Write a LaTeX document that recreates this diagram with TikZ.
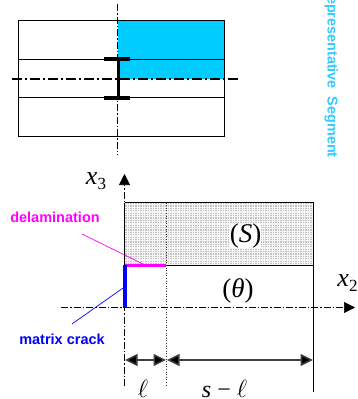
\documentclass[tikz,border=0pt]{standalone}
\usepackage{fontspec}
\setmainfont{Liberation Serif}
\newfontfamily\arialf{Liberation Sans}
\usetikzlibrary{arrows.meta}
\definecolor{segblue}{RGB}{0,204,255}
\definecolor{seglabel}{RGB}{51,204,255}
\definecolor{delam}{RGB}{255,0,255}
\definecolor{crack}{RGB}{0,0,255}
\tikzset{
  box/.style={draw=black,line width=.8pt},
  axisline/.style={draw=black,line width=.6pt,dash pattern=on 7pt off 2pt on 1.5pt off 2pt},
  symm/.style={draw=black,line width=1.1pt,dash pattern=on 10pt off 3pt on 2pt off 3pt},
  flange/.style={draw=black,line width=4pt},
  dimline/.style={draw=black!75,line width=1.5pt,{Triangle[length=12.5pt,width=12pt,fill=black]}-{Triangle[length=12.5pt,width=12pt,fill=black]}},
  tiplabel/.style={font=\arialf\bfseries\fontsize{14.5}{16}\selectfont,inner sep=0pt},
  mathlabel/.style={font=\fontsize{26}{28}\selectfont,inner sep=0pt},
  sublabel/.style={font=\fontsize{27}{29}\selectfont,inner sep=0pt},
  seglab/.style={rotate=-90,anchor=base east,font=\arialf\bfseries\fontsize{14.4}{16}\selectfont,text=seglabel,inner sep=0pt},
}
\begin{document}
\begin{tikzpicture}[x=1pt,y=-1pt]
\useasboundingbox (0,0) rectangle (358,399);
% top figure
\fill[segblue] (117.5,20.5) rectangle (224,79);
\draw[box] (18.5,20.5) rectangle (224,136);
\draw[box] (18.5,59) -- (224,59);
\draw[box] (18.5,97.5) -- (224,97.5);
\coordinate (vt) at (117.5,4);
\coordinate (vb) at (117.5,155);
\coordinate (hl) at (12,79);
\coordinate (hr) at (238,79);
\draw[axisline] (vt) -- (vb);
\draw[symm] (hl) -- (hr);
\coordinate (fa1) at (104,59);
\coordinate (fa2) at (130,59);
\coordinate (fb1) at (104,98);
\coordinate (fb2) at (130,98);
\coordinate (wa) at (118.5,59);
\coordinate (wb) at (118.5,98);
\draw[flange] (fa1) -- (fa2);
\draw[flange] (fb1) -- (fb2);
\draw[draw=black,line width=3pt] (wa) -- (wb);
\begin{scope}
\clip (300,0) rectangle (358,170);
\node[seglab] (seg) at (327.5,158) {Representative\hspace{.28em} Segment};
\end{scope}
% bottom figure
\fill[black!4] (124.5,202.5) rectangle (313.5,265);
\foreach \xx in {126,128.5,...,313}
  \draw[black!24,line width=1.1pt,dash pattern=on 1.2pt off 1.2pt] (\xx,203) -- (\xx,265);
\node[fill=white,inner sep=1pt,sublabel] (S) at (245.5,236) {(\textit{S})};
\node[sublabel] (T) at (238,291) {(\textit{θ})};
\draw[box] (124.5,202.5) -- (313.5,202.5);
\draw[box] (124.5,265) -- (313.5,265);
\draw[box] (124.5,202.5) -- (124.5,265);
\coordinate (rt) at (313.5,202.5);
\coordinate (rb) at (313.5,392);
\draw[box] (rt) -- (rb);
% axes
\coordinate (x3b) at (124.5,386);
\coordinate (x3t) at (124.5,174);
\coordinate (x2l) at (61,307.5);
\coordinate (x2r) at (355,307.5);
\draw[axisline,-{Triangle[length=11pt,width=11pt,fill=black]}] (x3b) -- (x3t);
\draw[axisline,-{Triangle[length=11pt,width=11pt,fill=black]}] (x2l) -- (x2r);
\coordinate (dt) at (166.5,202.5);
\coordinate (db) at (166.5,386);
\draw[draw=black!80,line width=.6pt,dotted] (dt) -- (db);
% cracks
\coordinate (c0) at (125,265);
\coordinate (c1) at (166,265);
\coordinate (c2) at (125,307.5);
\draw[delam,line width=3pt] (c0) -- (c1);
\draw[crack,line width=4pt] (c0) -- (c2);
% labels
\node[tiplabel,text=delam] (dl) at (55,217) {delamination};
\node[tiplabel,text=crack] (mc) at (62,339) {matrix crack};
\coordinate (dlp) at (82,234);
\coordinate (dlq) at (143,264);
\coordinate (mcp) at (72,324);
\coordinate (mcq) at (123,288);
\draw[delam,line width=.7pt] (dlp) -- (dlq);
\draw[crack,line width=.7pt] (mcp) -- (mcq);
% dimensions
\coordinate (d1) at (125,360);
\coordinate (d2) at (166,360);
\coordinate (d3) at (167,360);
\coordinate (d4) at (313,360);
\draw[dimline] (d1) -- (d2);
\draw[dimline] (d3) -- (d4);
\node[inner sep=0pt,font=\fontsize{23}{25}\selectfont] (ell) at (143,388.5) {$\ell$};
\node[inner sep=0pt,font=\fontsize{24}{26}\selectfont] (sl) at (224.5,388.5) {\textit{s} − $\ell$};
\node[mathlabel] (x3) at (96,181) {\textit{x}\raisebox{-5pt}{\fontsize{17}{18}\selectfont 3}};
\node[mathlabel] (x2) at (347.5,283) {\textit{x}\raisebox{-5pt}{\fontsize{17}{18}\selectfont 2}};
\end{tikzpicture}
\end{document}
